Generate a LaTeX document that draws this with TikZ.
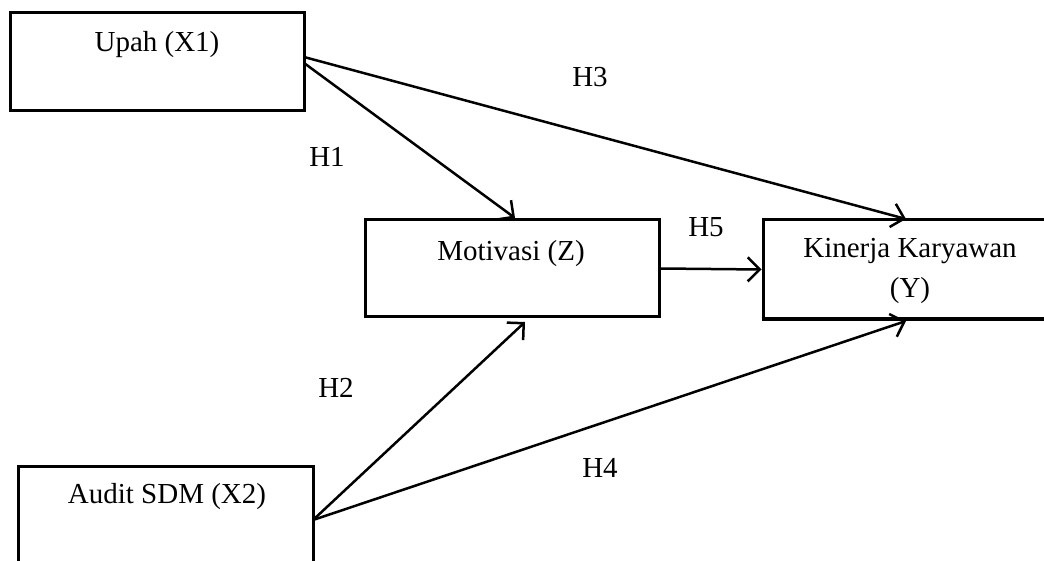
\documentclass[tikz,border=0pt]{standalone}
\usepackage{fontspec}
\setmainfont{Liberation Serif}
\usetikzlibrary{arrows.meta}
\begin{document}
\begin{tikzpicture}[x=1pt,y=-1pt,
  box/.style={draw, line width=3pt, rectangle, inner sep=0pt},
  lbl/.style={font=\fontsize{29}{40}\selectfont, inner sep=0pt, anchor=base},
  link/.style={line width=2.5pt, -{Straight Barb[length=12pt,width=24pt,line width=2.5pt]}}]
\useasboundingbox (0,0) rectangle (1044,561);
\begin{scope}
\clip (0,0) rectangle (1044,561);
\node[box, minimum width=294pt, minimum height=98pt] (up) at (157,62) {};
\node[box, minimum width=294pt, minimum height=97pt] (mot) at (512,268.5) {};
\node[box, minimum width=294pt, minimum height=99pt] (kin) at (910,269.5) {};
\node[box, minimum width=295pt, minimum height=98pt] (aud) at (165.5,515) {};
\end{scope}
\node[lbl] (tup) at (157,52) {Upah (X1)};
\node[lbl] (tmot) at (511,261) {Motivasi (Z)};
\node[lbl, align=center] (tkin) at (910,298) {Kinerja Karyawan\\(Y)};
\node[lbl] (taud) at (167,503) {Audit SDM (X2)};
\coordinate (s1) at (304,63);
\coordinate (s3) at (304,57);
\coordinate (e1) at (515,218);
\coordinate (e3) at (906,219);
\coordinate (s2) at (313,520);
\coordinate (e2) at (525,322);
\coordinate (e4) at (906,321);
\coordinate (s5) at (mot.east);
\coordinate (e5) at (kin.west);
\draw[link] (s1) -- (e1);
\draw[link] (s3) -- (e3);
\draw[link] (s2) -- (e2);
\draw[link] (s2) -- (e4);
\draw[link] (s5) -- (e5);
\node[lbl] (h1) at (327,167) {H1};
\node[lbl] (h2) at (336,397) {H2};
\node[lbl] (h3) at (590,87) {H3};
\node[lbl] (h4) at (600,477) {H4};
\node[lbl] (h5) at (706,237) {H5};
\end{tikzpicture}
\end{document}
